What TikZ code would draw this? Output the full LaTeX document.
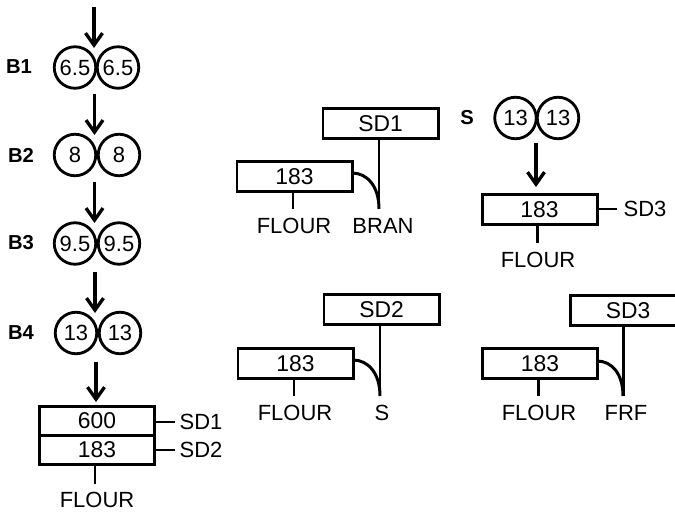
\documentclass[tikz,border=0pt]{standalone}
\usepackage{fontspec}
\setmainfont{Liberation Sans}
\usetikzlibrary{arrows.meta}
\tikzset{
  roller/.style={circle,draw,line width=1.6pt,minimum size=8.3mm,inner sep=0pt,font=\fontsize{12.5}{14}\selectfont},
  boxcell/.style={rectangle,draw,line width=1.7pt,minimum width=23mm,minimum height=6.1mm,inner sep=0pt,font=\fontsize{13}{15}\selectfont},
  stackcell/.style={boxcell,minimum height=5.8mm},
  streamlabel/.style={font=\fontsize{12.5}{14}\selectfont,inner sep=0pt},
  passlabel/.style={font=\fontsize{11.5}{13}\selectfont\bfseries,inner sep=0pt},
  flowline/.style={line width=1.7pt},
  flowarrow/.style={line width=1.9pt,-{Straight Barb[length=2.4mm,width=3.4mm,line width=1.9pt]}}
}
\begin{document}
\begin{tikzpicture}[x=0.2mm,y=-0.2mm]
  \useasboundingbox (0,0) rectangle (675,512);
  \clip (0,0) rectangle (675,512);

  % break rolls
  \node[passlabel] (b1) at (19,67) {B1};
  \node[roller] (b1l) at (75,67.5) {6.5};
  \node[roller] (b1r) at (118,67.5) {6.5};
  \node[passlabel] (b2) at (21,155) {B2};
  \node[roller] (b2l) at (75,155) {8};
  \node[roller] (b2r) at (119,155) {8};
  \node[passlabel] (b3) at (21,243) {B3};
  \node[roller] (b3l) at (75,243.5) {9.5};
  \node[roller] (b3r) at (119,243.5) {9.5};
  \node[passlabel] (b4) at (21,333) {B4};
  \node[roller] (b4l) at (76,333) {13};
  \node[roller] (b4r) at (120,333) {13};

  % arrows between the rolls
  \coordinate (a1s) at (94,7);
  \coordinate (a1e) at (94,48);
  \coordinate (a2s) at (94.5,94);
  \coordinate (a2e) at (94.5,135);
  \coordinate (a3s) at (94.5,182);
  \coordinate (a3e) at (94.5,223);
  \coordinate (a4s) at (95,272);
  \coordinate (a4e) at (95,313);
  \coordinate (a5s) at (96,362);
  \coordinate (a5e) at (96,402);
  \draw[flowarrow] (a1s) -- (a1e);
  \draw[flowarrow] (a2s) -- (a2e);
  \draw[flowarrow] (a3s) -- (a3e);
  \draw[flowarrow] (a4s) -- (a4e);
  \draw[flowarrow] (a5s) -- (a5e);

  % sifter below B4
  \node[stackcell] (top) at (97,421) {600};
  \node[stackcell] (bot) at (97,450) {183};
  \node[streamlabel] (sda) at (201,422) {SD1};
  \node[streamlabel] (sdb) at (201,450) {SD2};
  \node[streamlabel] (floura) at (97,500) {FLOUR};
  \coordinate (sdaend) at (175,422);
  \coordinate (sdbend) at (175,450);
  \coordinate (sdastart) at (top.east |- sdaend);
  \coordinate (sdbstart) at (bot.east |- sdbend);
  \coordinate (flaend) at (95,484);
  \coordinate (flastart) at (95,464);
  \draw[flowline] (sdastart) -- (sdaend);
  \draw[flowline] (sdbstart) -- (sdbend);
  \draw[flowline] (flastart) -- (flaend);

  % SD1 panel
  \node[boxcell] (sdone) at (380.5,123.5) {SD1};
  \node[boxcell] (sdonef) at (294.5,176.5) {183};
  \node[streamlabel] (flourb) at (294,226) {FLOUR};
  \node[streamlabel] (bran) at (383,226) {BRAN};
  \coordinate (sdonedown) at (379,209);
  \coordinate (sdonetop) at (379,139);
  \coordinate (sdonecurve) at (352,173);
  \coordinate (flbend) at (293,209);
  \coordinate (flbstart) at (293,192);
  \draw[flowline] (sdonetop) -- (sdonedown);
  \draw[flowline] (sdonecurve) .. controls (367,173) and (379,186) .. (sdonedown);
  \draw[flowline] (flbstart) -- (flbend);

  % S rolls and sifter
  \node[passlabel] (s) at (467,118) {S};
  \node[roller] (sl) at (515.5,118) {13};
  \node[roller] (sr) at (558,118) {13};
  \coordinate (a6s) at (536,143);
  \coordinate (a6e) at (536,187);
  \draw[flowarrow] (a6s) -- (a6e);
  \node[boxcell] (sf) at (539.5,209.5) {183};
  \node[streamlabel] (sdc) at (645,209) {SD3};
  \node[streamlabel] (flourc) at (538,260) {FLOUR};
  \coordinate (sdcend) at (617,209);
  \coordinate (sdcstart) at (sf.east |- sdcend);
  \coordinate (flcstart) at (537,225);
  \coordinate (flcend) at (537,243);
  \draw[flowline] (sdcstart) -- (sdcend);
  \draw[flowline] (flcstart) -- (flcend);

  % SD2 panel
  \node[boxcell] (sdtwo) at (381.5,309.5) {SD2};
  \node[boxcell] (sdtwof) at (295.5,363.5) {183};
  \node[streamlabel] (flourd) at (295,413) {FLOUR};
  \node[streamlabel] (sout) at (382,413) {S};
  \coordinate (sdtwotop) at (380,325);
  \coordinate (sdtwodown) at (380,396);
  \coordinate (sdtwocurve) at (353,360);
  \coordinate (fldstart) at (294,379);
  \coordinate (fldend) at (294,396);
  \draw[flowline] (sdtwotop) -- (sdtwodown);
  \draw[flowline] (sdtwocurve) .. controls (368,360) and (380,373) .. (sdtwodown);
  \draw[flowline] (fldstart) -- (fldend);

  % SD3 panel
  \node[boxcell] (sdthree) at (628,310.5) {SD3};
  \node[boxcell] (sdthreef) at (540,363.5) {183};
  \node[streamlabel] (floure) at (539,413) {FLOUR};
  \node[streamlabel] (frf) at (626,413) {FRF};
  \coordinate (sdthreetop) at (623,326);
  \coordinate (sdthreedown) at (623,396);
  \coordinate (sdthreecurve) at (597,361);
  \coordinate (flestart) at (538,379);
  \coordinate (fleend) at (538,396);
  \draw[flowline] (sdthreetop) -- (sdthreedown);
  \draw[flowline] (sdthreecurve) .. controls (612,361) and (623,374) .. (sdthreedown);
  \draw[flowline] (flestart) -- (fleend);
\end{tikzpicture}
\end{document}
